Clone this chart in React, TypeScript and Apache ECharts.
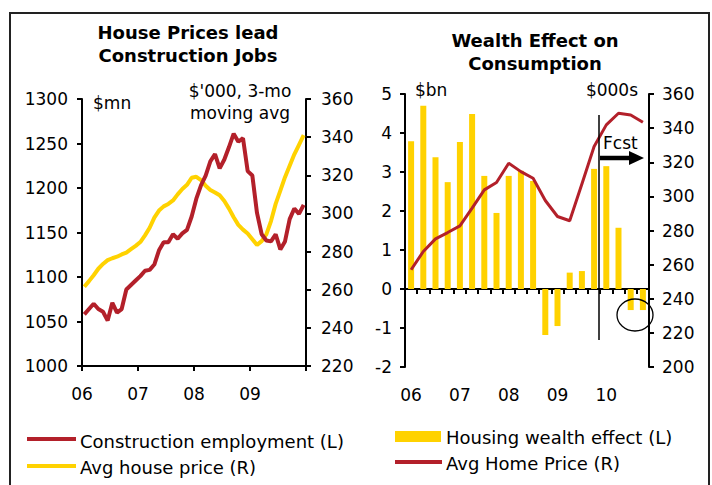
import React, { useEffect, useRef } from 'react';
import * as echarts from 'echarts';

// ---------- Left panel: monthly, Jan 2006 .. Dec 2009 ----------
const constructionEmployment = [
  1058, 1064, 1070, 1064, 1061, 1051, 1071, 1060, 1064, 1086, 1091, 1096,
  1101, 1107, 1108, 1114, 1130, 1139, 1139, 1148, 1143, 1149, 1153, 1168,
  1188, 1203, 1214, 1230, 1238, 1222, 1232, 1246, 1261, 1252, 1256, 1219,
  1214, 1172, 1148, 1141, 1140, 1148, 1131, 1140, 1165, 1177, 1171, 1181,
];
const avgHousePrice = [
  261.5, 264.5, 267.6, 271, 273.5, 275.5, 276.5, 277.3, 278.5, 279.5, 281.3, 283,
  285, 288.5, 292.5, 297.8, 301.5, 303.7, 305, 306.8, 310, 312.8, 315, 318.7,
  319.2, 317.5, 314.5, 312.3, 311, 309.5, 306.5, 302.5, 298, 294, 291.5, 289.5,
  286.5, 283.5, 285.5, 289, 296, 305, 312, 319, 325, 331, 336, 341,
];
const leftYearLabels = ['06', '07', '08', '09', ''];

// ---------- Right panel: quarterly, 2006Q1 .. 2010Q4 ----------
const quarters = [
  '06 Q1', '06 Q2', '06 Q3', '06 Q4',
  '07 Q1', '07 Q2', '07 Q3', '07 Q4',
  '08 Q1', '08 Q2', '08 Q3', '08 Q4',
  '09 Q1', '09 Q2', '09 Q3', '09 Q4',
  '10 Q1', '10 Q2', '10 Q3', '10 Q4',
];
const housingWealthEffect = [
  3.79, 4.7, 3.38, 2.74, 3.77, 4.49, 2.9, 1.95, 2.9, 3.03,
  2.77, -1.18, -0.95, 0.42, 0.46, 3.08, 3.15, 1.57, -0.54, -0.54,
];
const avgHomePrice = [
  257, 267.7, 275.1, 278.8, 282.7, 293.1, 303.8, 308.1, 319.4, 314.5,
  310.6, 297.6, 288.2, 285.7, 307.3, 329.2, 341.9, 348.7, 347.7, 343.4,
];

const RED = '#B3202A';
const YELLOW = '#FFD200';
const FONT = '"DejaVu Sans", Verdana, sans-serif';

const axisLine = { show: true, onZero: false, lineStyle: { color: '#000', width: 2 } };
const axisTick = { show: true, length: 5, lineStyle: { color: '#000', width: 2 } };
const plain = (v: number) => String(v);
const label = (margin: number, extra: any = {}) => ({
  color: '#000', fontSize: 17, fontFamily: FONT, margin, formatter: plain, ...extra,
});

function buildOption() {
  const txt = (x: number, y: number, text: string, opts: any = {}) => ({
    type: 'text', x, y, z: 10,
    style: {
      text, fill: '#000',
      font: `${opts.bold ? 'bold ' : ''}${opts.size || 17}px ${FONT}`,
      align: opts.align || 'left', verticalAlign: 'middle',
    },
  });
  return {
    animation: false,
    backgroundColor: '#fff',
    grid: [
      { left: 82, top: 99, width: 224, height: 267 },
      { left: 405, top: 94, width: 244, height: 273 },
    ],
    xAxis: [
      {
        type: 'value', gridIndex: 0, min: 0, max: 48, interval: 12,
        axisLine, axisTick, splitLine: { show: false },
        axisLabel: label(19, { formatter: (v: number) => leftYearLabels[Math.round(v / 12)] }),
      },
      {
        type: 'category', gridIndex: 1, position: 'bottom', data: quarters,
        axisLine: { show: false, onZero: false }, axisTick: { show: false },
        axisLabel: label(19, { interval: 3, formatter: (v: string) => v.slice(0, 2) }),
      },
      {
        type: 'category', gridIndex: 1, position: 'bottom', data: quarters,
        axisLine: { show: true, onZero: true, lineStyle: { color: '#000', width: 2 } },
        axisTick: { show: true, interval: 0, length: 5, lineStyle: { color: '#000', width: 2 } },
        axisLabel: { show: false },
      },
    ],
    yAxis: [
      {
        type: 'value', gridIndex: 0, position: 'left', min: 1000, max: 1300, interval: 50,
        axisLine, axisTick, splitLine: { show: false }, axisLabel: label(14),
      },
      {
        type: 'value', gridIndex: 0, position: 'right', min: 220, max: 360, interval: 20,
        axisLine, axisTick, splitLine: { show: false }, axisLabel: label(15),
      },
      {
        type: 'value', gridIndex: 1, position: 'left', min: -2, max: 5, interval: 1,
        axisLine, axisTick, splitLine: { show: false }, axisLabel: label(13),
      },
      {
        type: 'value', gridIndex: 1, position: 'right', min: 200, max: 360, interval: 20,
        axisLine, axisTick, splitLine: { show: false }, axisLabel: label(13),
      },
    ],
    series: [
      {
        name: 'Construction employment (L)', type: 'line', xAxisIndex: 0, yAxisIndex: 0,
        data: constructionEmployment.map((v, i) => [i + 0.5, v]),
        symbol: 'none', lineStyle: { color: RED, width: 4 }, z: 3,
      },
      {
        name: 'Avg house price (R)', type: 'line', xAxisIndex: 0, yAxisIndex: 1,
        data: avgHousePrice.map((v, i) => [i + 0.5, v]),
        symbol: 'none', lineStyle: { color: YELLOW, width: 4 }, z: 2,
      },
      {
        name: 'Housing wealth effect (L)', type: 'bar', xAxisIndex: 2, yAxisIndex: 2,
        data: housingWealthEffect, barWidth: 6, itemStyle: { color: YELLOW },
      },
      {
        name: 'Avg Home Price (R)', type: 'line', xAxisIndex: 2, yAxisIndex: 3,
        data: avgHomePrice, symbol: 'none', lineStyle: { color: RED, width: 3 }, z: 3,
      },
    ],
    graphic: [
      {
        type: 'rect', shape: { x: 10, y: 13, width: 699, height: 485 },
        style: { fill: 'none', stroke: '#222', lineWidth: 2 }, z: 10,
      },
      txt(188, 32, 'House Prices lead', { bold: true, size: 18, align: 'center' }),
      txt(188, 55, 'Construction Jobs', { bold: true, size: 18, align: 'center' }),
      txt(535, 40, 'Wealth Effect on', { bold: true, size: 18, align: 'center' }),
      txt(535, 63, 'Consumption', { bold: true, size: 18, align: 'center' }),
      txt(93, 103, '$mn'),
      txt(240, 91, "$'000, 3-mo", { align: 'center' }),
      txt(240, 113, 'moving avg', { align: 'center' }),
      txt(415, 90, '$bn'),
      txt(638, 90, '$000s', { align: 'right' }),
      // forecast marker
      {
        type: 'line', shape: { x1: 599, y1: 115, x2: 599, y2: 340 },
        style: { stroke: '#000', lineWidth: 1.5 }, z: 10,
      },
      txt(603, 143, 'Fcst'),
      {
        type: 'line', shape: { x1: 600, y1: 158, x2: 632, y2: 158 },
        style: { stroke: '#000', lineWidth: 4.5 }, z: 10,
      },
      {
        type: 'polygon', shape: { points: [[629, 151], [644, 158], [629, 165]] },
        style: { fill: '#000' }, z: 10,
      },
      {
        type: 'ellipse', shape: { cx: 635, cy: 315, rx: 18, ry: 16 },
        style: { fill: 'none', stroke: '#000', lineWidth: 1.3 }, z: 10,
      },
      // legend
      {
        type: 'line', shape: { x1: 27, y1: 439, x2: 76, y2: 439 },
        style: { stroke: RED, lineWidth: 4 }, z: 10,
      },
      txt(80, 441, 'Construction employment (L)', { size: 18 }),
      {
        type: 'line', shape: { x1: 27, y1: 466, x2: 76, y2: 466 },
        style: { stroke: YELLOW, lineWidth: 4 }, z: 10,
      },
      txt(80, 467, 'Avg house price (R)', { size: 18 }),
      {
        type: 'rect', shape: { x: 395, y: 431, width: 46, height: 11 },
        style: { fill: YELLOW }, z: 10,
      },
      txt(446, 437, 'Housing wealth effect (L)', { size: 18 }),
      {
        type: 'line', shape: { x1: 395, y1: 462, x2: 442, y2: 462 },
        style: { stroke: RED, lineWidth: 4 }, z: 10,
      },
      txt(446, 463, 'Avg Home Price (R)', { size: 18 }),
    ],
  };
}

export default function App() {
  const ref = useRef<HTMLDivElement>(null);
  useEffect(() => {
    const chart = echarts.init(ref.current!, null, { renderer: 'svg' });
    chart.setOption(buildOption() as any);
    return () => chart.dispose();
  }, []);
  return (
    <div
      ref={ref}
      style={{ position: 'fixed', left: 0, top: 0, width: 712, height: 485, background: '#fff' }}
    />
  );
}
